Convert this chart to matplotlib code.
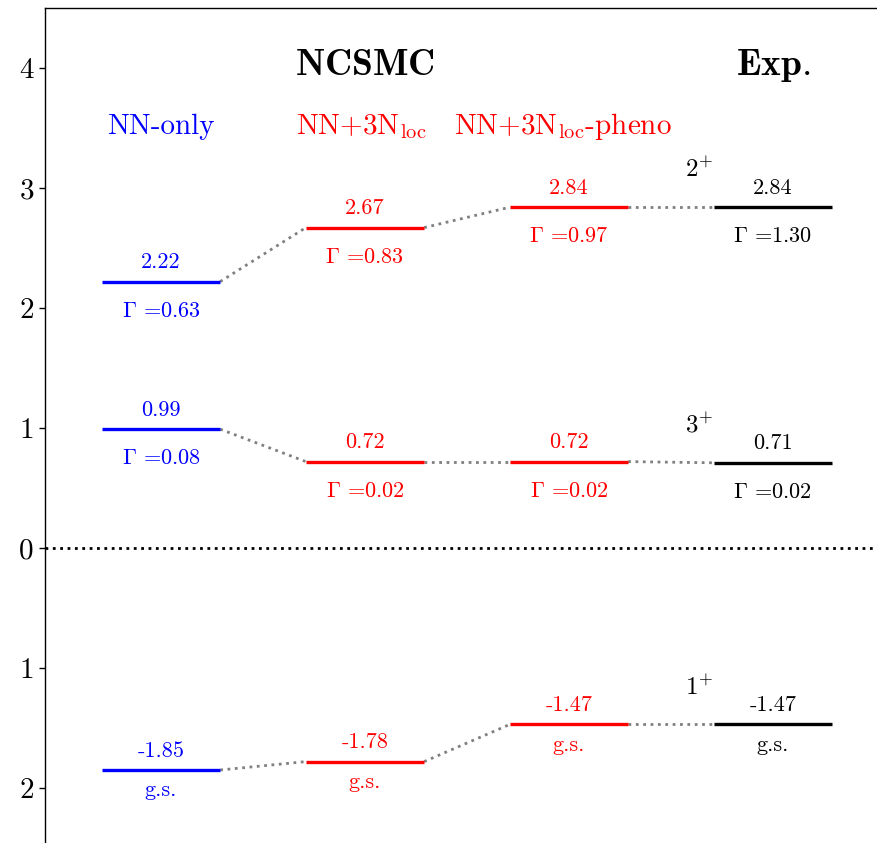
import matplotlib
matplotlib.use("Agg")
import matplotlib.pyplot as plt

plt.rcParams['font.family'] = ['cmr10', 'DejaVu Serif']
plt.rcParams['mathtext.fontset'] = 'cm'
plt.rcParams['axes.unicode_minus'] = False

columns = ["NN-only", r"NN+3N$_{\rm loc}$", r"NN+3N$_{\rm loc}$-pheno", "Exp."]
col_colors = ["blue", "red", "red", "black"]
# levels: 2+, 3+, 1+ (g.s.)
energies_2p = [2.22, 2.67, 2.84, 2.84]
widths_2p = ["0.63", "0.83", "0.97", "1.30"]
energies_3p = [0.99, 0.72, 0.72, 0.71]
widths_3p = ["0.08", "0.02", "0.02", "0.02"]
energies_1p = [-1.85, -1.78, -1.47, -1.47]
spin_labels = [r"$2^{+}$", r"$3^{+}$", r"$1^{+}$"]
ytick_vals = [4, 3, 2, 1, 0, -1, -2]
ytick_labels = ["4", "3", "2", "1", "0", "1", "2"]

W, H = 878, 843
fig = plt.figure(figsize=(W/100, H/100), dpi=100)
ax = fig.add_axes([45/W, -5/H, 1 - 45/W, (843 - 8 + 5)/H])
ax.set_xlim(-0.569, 3.515)
ax.set_ylim(-2.5, 4.5)
for s in ["right", "bottom"]:
    ax.spines[s].set_visible(False)
ax.spines["left"].set_linewidth(1.0)
ax.spines["top"].set_linewidth(1.0)
ax.set_xticks([])
ax.set_yticks(ytick_vals)
ax.set_yticklabels(ytick_labels, fontsize=21)
ax.tick_params(axis='y', length=4, width=1, direction='out', pad=4)

hw = 0.29
ax.axhline(0, color='black', linestyle=':', linewidth=2)

def draw_levels(energies, bottom_labels, bottom_off):
    for i, e in enumerate(energies):
        ax.plot([i - hw, i + hw], [e, e], color=col_colors[i], linewidth=2.4,
                solid_capstyle='butt', zorder=3)
        ax.text(i, e + 0.16, f"{e:.2f}", color=col_colors[i], ha='center', va='center', fontsize=16)
        ax.text(i, e - bottom_off, bottom_labels[i], color=col_colors[i], ha='center', va='center', fontsize=16)
        if i < len(energies) - 1:
            ax.plot([i + hw, i + 1 - hw], [e, energies[i + 1]], color='gray', linestyle=':',
                    linewidth=2, zorder=2)

draw_levels(energies_2p, [r"$\Gamma$ =" + w for w in widths_2p], 0.245)
draw_levels(energies_3p, [r"$\Gamma$ =" + w for w in widths_3p], 0.245)
draw_levels(energies_1p, ["g.s."] * 4, 0.17)

spin_x = 2.64
for lab, e in zip(spin_labels, [energies_2p[3], energies_3p[3], energies_1p[3]]):
    ax.text(spin_x, e + 0.31, lab, ha='center', va='center', fontsize=18, color='black')

label_x = [0.0, 0.98, 1.97]
for i in range(3):
    ax.text(label_x[i], 3.51, columns[i], color=col_colors[i], ha='center', va='center', fontsize=21)

ax.text(1.0, 4.02, r"$\mathbf{NCSMC}$", ha='center', va='center', fontsize=27)
ax.text(3.0, 4.02, r"$\mathbf{Exp.}$", ha='center', va='center', fontsize=27)

fig.savefig("out.png", dpi=100)
